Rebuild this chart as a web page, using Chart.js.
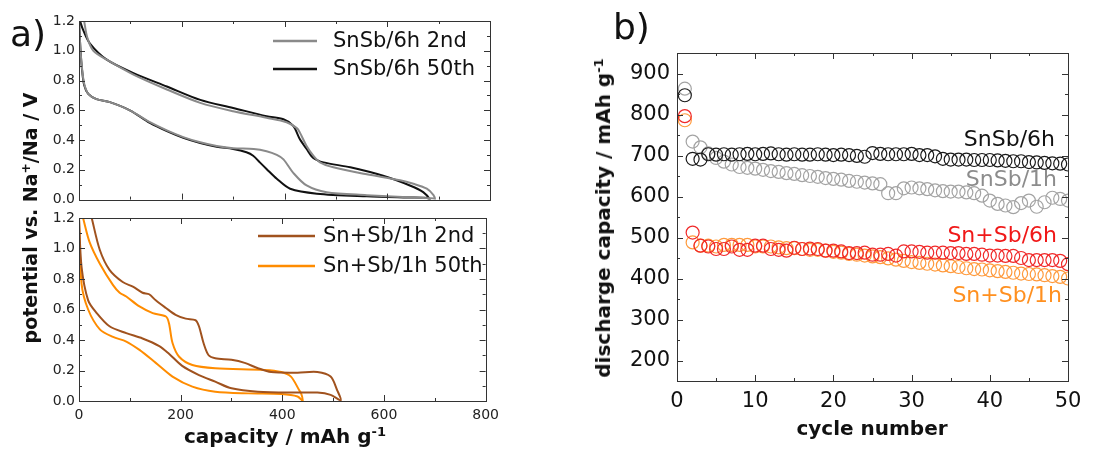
<!DOCTYPE html>
<html>
<head>
<meta charset="utf-8">
<script src="https://cdn.jsdelivr.net/npm/chart.js@4/dist/chart.umd.min.js"></script>
<style>
  body { margin: 0; background: #fff; }
  #wrap { position: relative; width: 1103px; height: 450px; overflow: hidden; font-family: "DejaVu Sans", sans-serif; color: #111; }
  canvas { position: absolute; }
  .lbl { position: absolute; white-space: nowrap; font-weight: bold; transform: translate(-50%, -50%); }
  .rot { transform: translate(-50%, -50%) rotate(-90deg); }
  .lbl sup { font-size: 65%; vertical-align: 0.55em; line-height: 0; }
  .panel { position: absolute; font-size: 36px; line-height: 36px; }
</style>
</head>
<body>
<div id="wrap">
  <canvas id="chartA" width="505" height="212" style="left:0;top:0"></canvas>
  <canvas id="chartB" width="505" height="250" style="left:0;top:200px"></canvas>
  <canvas id="chartC" width="543" height="450" style="left:560px;top:0"></canvas>
  <div class="panel" style="left:10px;top:16px">a)</div>
  <div class="panel" style="left:613px;top:9px">b)</div>
  <div class="lbl rot" style="left:30px;top:218px;font-size:19px">potential vs. Na<sup>+</sup>/Na / V</div>
  <div class="lbl" style="left:285px;top:436px;font-size:20px">capacity / mAh g<sup>-1</sup></div>
  <div class="lbl rot" style="left:603px;top:218px;font-size:20px">discharge capacity / mAh g<sup>-1</sup></div>
  <div class="lbl" style="left:872px;top:428px;font-size:20px">cycle number</div>
</div>
<script>
// ---- panel a), top: SnSb/6h (discharge then charge) ----
const snsb2ndCap = [0, 3, 6, 10, 18, 34, 60, 99, 138, 171, 203, 236, 268, 300, 340, 365, 385, 398, 417, 443, 482, 560, 640, 690, 693,
  690, 677, 651, 625, 560, 495, 469, 456, 443, 430, 424, 404, 365, 300, 236, 171, 106, 54, 28, 16, 10];
const snsb2ndV = [1.2, 1.0, 0.88, 0.78, 0.71, 0.675, 0.655, 0.6, 0.52, 0.465, 0.42, 0.385, 0.36, 0.345, 0.34, 0.325, 0.3, 0.27, 0.18, 0.095, 0.05, 0.03, 0.015, 0.008, 0,
  0.03, 0.073, 0.106, 0.13, 0.17, 0.217, 0.25, 0.295, 0.36, 0.45, 0.48, 0.52, 0.55, 0.594, 0.65, 0.74, 0.84, 0.94, 1.0, 1.09, 1.2];
const snsb50thCap = [0, 3, 6, 10, 18, 34, 60, 99, 138, 171, 203, 236, 268, 300, 326, 339, 352, 365, 385, 411, 463, 560, 640, 677, 683,
  670, 644, 592, 528, 476, 456, 443, 430, 417, 398, 365, 300, 236, 171, 106, 54, 21, 8, 2];
const snsb50thV = [1.2, 1.0, 0.87, 0.77, 0.71, 0.675, 0.655, 0.6, 0.515, 0.46, 0.415, 0.38, 0.355, 0.34, 0.318, 0.295, 0.25, 0.206, 0.14, 0.073, 0.04, 0.022, 0.014, 0.011, 0,
  0.05, 0.095, 0.16, 0.217, 0.25, 0.28, 0.34, 0.405, 0.495, 0.54, 0.56, 0.616, 0.67, 0.76, 0.85, 0.94, 1.05, 1.14, 1.2];

// ---- panel a), bottom: Sn+Sb/1h ----
const snsbMix2ndCap = [0, 5, 18, 34, 60, 93, 125, 158, 177, 203, 236, 268, 300, 352, 430, 469, 495, 515,
  508, 495, 469, 430, 378, 352, 326, 300, 268, 255, 245, 236, 229, 210, 190, 171, 151, 138, 125, 106, 86, 60, 41, 25];
const snsbMix2ndV = [1.2, 0.88, 0.66, 0.58, 0.49, 0.445, 0.41, 0.36, 0.31, 0.23, 0.17, 0.127, 0.083, 0.061, 0.055, 0.055, 0.04, 0.005,
  0.07, 0.16, 0.19, 0.186, 0.19, 0.215, 0.25, 0.27, 0.28, 0.3, 0.38, 0.49, 0.53, 0.54, 0.565, 0.61, 0.66, 0.7, 0.71, 0.75, 0.78, 0.86, 0.99, 1.2];
const snsbMix50thCap = [0, 5, 18, 41, 67, 93, 119, 151, 184, 223, 268, 333, 398, 430, 440,
  437, 433, 417, 398, 365, 268, 223, 197, 184, 177, 171, 145, 119, 93, 80, 67, 41, 21, 8];
const snsbMix50thV = [1.2, 0.77, 0.6, 0.47, 0.42, 0.39, 0.335, 0.25, 0.16, 0.094, 0.061, 0.05, 0.046, 0.03, 0,
  0.05, 0.072, 0.16, 0.19, 0.204, 0.215, 0.236, 0.29, 0.38, 0.51, 0.554, 0.576, 0.62, 0.685, 0.71, 0.76, 0.9, 1.04, 1.2];

// ---- panel b): discharge capacity per cycle ----
const cycles = Array.from({ length: 50 }, (_, i) => i + 1);
const capSnSb6h = [847, 692, 690, 703, 702, 703, 702, 703, 704, 703, 704, 705, 703, 702, 703, 702, 702, 703, 702, 701, 702, 701, 699, 697, 706,
  704, 703, 703, 703, 704, 701, 701, 698, 692, 690, 690, 690, 689, 689, 689, 688, 687, 686, 686, 684, 683, 682, 681, 680, 678];
const capSnSb1h = [863, 734, 720, 705, 694, 685, 678, 672, 670, 668, 665, 662, 660, 657, 655, 652, 650, 648, 645, 643, 641, 638, 636, 634, 632,
  630, 608, 608, 620, 622, 620, 618, 615, 613, 612, 612, 610, 608, 602, 590, 582, 578, 574, 584, 590, 575, 586, 597, 594, 590];
const capMix6h = [796, 512, 480, 478, 472, 472, 478, 470, 470, 480, 480, 472, 470, 468, 475, 472, 473, 472, 468, 468, 466, 462, 462, 463, 458,
  458, 460, 456, 466, 466, 465, 463, 463, 463, 462, 462, 460, 460, 458, 456, 456, 455, 455, 450, 445, 445, 445, 445, 443, 435];
const capMix1h = [786, 488, 480, 480, 478, 482, 482, 482, 482, 478, 478, 478, 476, 474, 474, 472, 470, 470, 468, 465, 463, 460, 458, 456, 454,
  452, 449, 446, 443, 440, 438, 436, 434, 432, 430, 428, 425, 423, 422, 420, 418, 416, 414, 412, 411, 410, 408, 406, 404, 400];

// tick values
const capacityTicks = [0, 200, 400, 600, 800];
const potentialTicks = [0, 0.2, 0.4, 0.6, 0.8, 1.0, 1.2];
const cycleTicks = [0, 10, 20, 30, 40, 50];
const dischargeTicks = [200, 300, 400, 500, 600, 700, 800, 900];

const FONT = '"DejaVu Sans", sans-serif';

function pairs(xs, ys) {
    return xs.map((x, i) => ({ x: x, y: ys[i] }));
}

function halfSteps(ticks, lo, hi) {
    const step = (ticks[1] - ticks[0]) / 2;
    const out = [];
    for (let v = ticks[0] - step; v <= hi + 1e-9; v += step) {
        if (v >= lo - 1e-9) out.push(+v.toFixed(6));
    }
    return out.filter(v => !ticks.some(t => Math.abs(t - v) < 1e-9));
}

// frame + inward ticks on all four sides
const frameTicks = {
    id: 'frameTicks',
    afterDraw(chart, args, opts) {
        const { ctx, chartArea: a, scales } = chart;
        const x = scales.x, y = scales.y;
        ctx.save();
        ctx.strokeStyle = '#333';
        ctx.lineWidth = 1;
        ctx.strokeRect(Math.round(a.left) + 0.5, Math.round(a.top) + 0.5,
            Math.round(a.right - a.left), Math.round(a.bottom - a.top));
        ctx.beginPath();
        const xMarks = (vals, len) => vals.forEach(v => {
            const px = Math.round(x.getPixelForValue(v)) + 0.5;
            ctx.moveTo(px, a.bottom); ctx.lineTo(px, a.bottom - len);
            ctx.moveTo(px, a.top); ctx.lineTo(px, a.top + len);
        });
        const yMarks = (vals, len) => vals.forEach(v => {
            const py = Math.round(y.getPixelForValue(v)) + 0.5;
            ctx.moveTo(a.left, py); ctx.lineTo(a.left + len, py);
            ctx.moveTo(a.right, py); ctx.lineTo(a.right - len, py);
        });
        xMarks(opts.xMajor, 6); xMarks(opts.xMinor, 3);
        yMarks(opts.yMajor, 6); yMarks(opts.yMinor, 3);
        ctx.stroke();
        ctx.restore();
    }
};

// line legend for panel a)
const lineLegend = {
    id: 'lineLegend',
    afterDraw(chart, args, opts) {
        if (!opts.rows) return;
        const ctx = chart.ctx;
        ctx.save();
        ctx.font = '21px ' + FONT;
        ctx.textBaseline = 'middle';
        chart.data.datasets.forEach((ds, i) => {
            const yy = opts.rows[i];
            ctx.strokeStyle = ds.borderColor;
            ctx.lineWidth = 2.5;
            ctx.beginPath();
            ctx.moveTo(opts.x0, yy); ctx.lineTo(opts.x1, yy);
            ctx.stroke();
            ctx.fillStyle = '#111';
            ctx.fillText(ds.label, opts.tx, yy + 1);
        });
        ctx.restore();
    }
};

// coloured series names for panel b)
const seriesNames = {
    id: 'seriesNames',
    afterDraw(chart, args, opts) {
        if (!opts.items) return;
        const ctx = chart.ctx;
        ctx.save();
        ctx.font = '22px ' + FONT;
        ctx.textAlign = 'right';
        ctx.textBaseline = 'middle';
        opts.items.forEach(it => {
            const ds = chart.data.datasets[it.ds];
            ctx.fillStyle = it.color || ds.borderColor;
            ctx.fillText(ds.label, it.x, it.y);
        });
        ctx.restore();
    }
};

function fixedTicks(values) {
    return scale => { scale.ticks = values.map(v => ({ value: v })); };
}

function curveChart(id, datasets, opts) {
    return new Chart(document.getElementById(id), {
        type: 'scatter',
        data: { datasets: datasets },
        plugins: [frameTicks, lineLegend],
        options: {
            responsive: false,
            animation: false,
            layout: { padding: { top: opts.top, right: 15, bottom: 0, left: 0 } },
            elements: { point: { radius: 0 } },
            plugins: {
                legend: { display: false },
                tooltip: { enabled: false },
                frameTicks: {
                    xMajor: capacityTicks, xMinor: halfSteps(capacityTicks, 0, 800),
                    yMajor: potentialTicks, yMinor: halfSteps(potentialTicks, 0, 1.2)
                },
                lineLegend: opts.legend
            },
            scales: {
                x: {
                    min: 0, max: 800,
                    grid: { display: false, drawTicks: false },
                    border: { display: false },
                    afterBuildTicks: fixedTicks(capacityTicks),
                    afterFit: s => { s.height = opts.xHeight; },
                    ticks: { display: opts.xLabels, padding: 6, color: '#222', font: { family: FONT, size: 14 } }
                },
                y: {
                    min: 0, max: 1.2,
                    grid: { display: false, drawTicks: false },
                    border: { display: false },
                    afterBuildTicks: fixedTicks(potentialTicks),
                    afterFit: s => { s.width = 79; },
                    ticks: { padding: 4, color: '#222', font: { family: FONT, size: 14 }, callback: v => v.toFixed(1) }
                }
            }
        }
    });
}

function curve(label, color, xs, ys) {
    return { label: label, data: pairs(xs, ys), showLine: true, borderColor: color, borderWidth: 2, tension: 0.3, pointRadius: 0 };
}

curveChart('chartA', [
    curve('SnSb/6h 2nd', '#8a8a8a', snsb2ndCap, snsb2ndV),
    curve('SnSb/6h 50th', '#111111', snsb50thCap, snsb50thV)
], { top: 21, xHeight: 11, xLabels: false, legend: { x0: 273, x1: 317, tx: 333, rows: [41, 69] } });

curveChart('chartB', [
    curve('Sn+Sb/1h 2nd', '#a0521e', snsbMix2ndCap, snsbMix2ndV),
    curve('Sn+Sb/1h 50th', '#ff8c00', snsbMix50thCap, snsbMix50thV)
], { top: 18, xHeight: 49, xLabels: true, legend: { x0: 258, x1: 315, tx: 323, rows: [36, 66] } });

function circles(label, color, values) {
    return {
        label: label, data: pairs(cycles, values), showLine: false,
        pointStyle: 'circle', pointRadius: 6.5, pointBorderWidth: 1.2,
        borderColor: color, backgroundColor: 'rgba(0,0,0,0)', pointBackgroundColor: 'rgba(0,0,0,0)'
    };
}

new Chart(document.getElementById('chartC'), {
    type: 'scatter',
    data: {
        datasets: [
            circles('SnSb/6h', '#1a1a1a', capSnSb6h),
            circles('SnSb/1h', '#a3a3a3', capSnSb1h),
            circles('Sn+Sb/6h', '#f02828', capMix6h),
            circles('Sn+Sb/1h', '#ff9a3c', capMix1h)
        ]
    },
    plugins: [frameTicks, seriesNames],
    options: {
        responsive: false,
        animation: false,
        layout: { padding: { top: 53, right: 35, bottom: 0, left: 0 } },
        plugins: {
            legend: { display: false },
            tooltip: { enabled: false },
            frameTicks: {
                xMajor: cycleTicks, xMinor: halfSteps(cycleTicks, 0, 50),
                yMajor: dischargeTicks, yMinor: halfSteps(dischargeTicks, 150, 950)
            },
            seriesNames: {
                items: [
                    { ds: 0, x: 495, y: 140, color: '#111' },
                    { ds: 1, x: 497, y: 180, color: '#8c8c8c' },
                    { ds: 2, x: 497, y: 236, color: '#f01818' },
                    { ds: 3, x: 502, y: 296, color: '#ff9020' }
                ]
            }
        },
        scales: {
            x: {
                min: 0, max: 50,
                grid: { display: false, drawTicks: false },
                border: { display: false },
                afterBuildTicks: fixedTicks(cycleTicks),
                afterFit: s => { s.height = 69; },
                ticks: { padding: 8, color: '#111', font: { family: FONT, size: 21 } }
            },
            y: {
                min: 150, max: 950,
                grid: { display: false, drawTicks: false },
                border: { display: false },
                afterBuildTicks: fixedTicks(dischargeTicks),
                afterFit: s => { s.width = 117; },
                ticks: { padding: 7, color: '#111', font: { family: FONT, size: 21 } }
            }
        }
    }
});
</script>
</body>
</html>
